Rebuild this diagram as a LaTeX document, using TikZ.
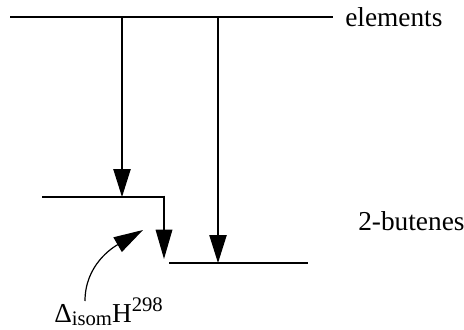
\documentclass[tikz,border=0pt]{standalone}
\usepackage{fontspec}
\setmainfont{Liberation Serif}
\usetikzlibrary{arrows.meta}

\newcommand{\smallset}{\fontsize{15.5}{16}\selectfont}

\begin{document}
\begin{tikzpicture}[x=0.75pt, y=0.75pt, font=\fontsize{20.5}{24}\selectfont,
  level/.style={line width=0.9pt},
  drop/.style={line width=0.9pt, -{Triangle[length=21pt, width=13pt]}},
  tag/.style={inner sep=0pt, anchor=base west}]
  \useasboundingbox (0,0) rectangle (464,329);
  % energy levels
  \coordinate (elemL) at (10,312);
  \coordinate (elemR) at (333,312);
  \coordinate (transL) at (42,132);
  \coordinate (transR) at (165,132);
  \coordinate (butL) at (169,66);
  \coordinate (butR) at (308,66);
  \draw[level] (elemL) -- (elemR);
  \draw[level] (transL) -- (transR);
  \draw[level] (butL) -- (butR);
  \node[tag] (elem) at (345,302) {elements};
  \node[tag] (but) at (358,99) {2-butenes};
  \node[tag] (isom) at (54,7)
    {Δ{\smallset\raisebox{-2.5pt}{isom}}H{\smallset\raisebox{8pt}{298}}};

  % formation steps
  \coordinate (dropA) at (122,312);
  \coordinate (dropB) at (218,312);
  \draw[drop] (dropA) -- (dropA |- transL);
  \draw[drop] (dropB) -- (dropB |- butL);
  \coordinate (stepS) at (164,133.5);
  \coordinate (stepE) at (164,70);
  \draw[drop, -{Triangle[length=22pt, width=12.5pt]}] (stepS) -- (stepE);
  \coordinate (bendS) at (85,28);
  \coordinate (bendE) at (143,99);
  \draw[drop, -{Triangle[length=22pt, width=12.5pt]}] (bendS) to[out=90, in=210] (bendE);
\end{tikzpicture}
\end{document}
